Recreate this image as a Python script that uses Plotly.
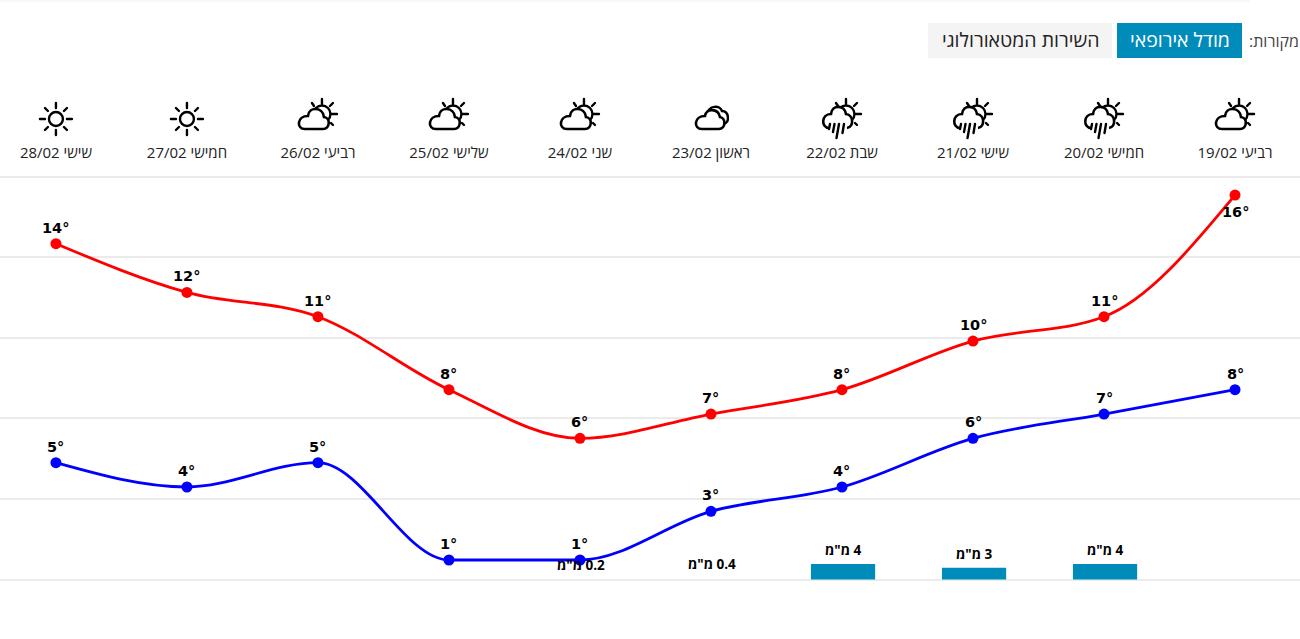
import base64
import plotly.graph_objects as go

days = ["רביעי 19/02", "חמישי 20/02", "שישי 21/02", "שבת 22/02", "ראשון 23/02",
        "שני 24/02", "שלישי 25/02", "רביעי 26/02", "חמישי 27/02", "שישי 28/02"]
temp_high = [16, 11, 10, 8, 7, 6, 8, 11, 12, 14]
temp_low = [8, 7, 6, 4, 3, 1, 1, 5, 4, 5]
rain_days = ["חמישי 20/02", "שישי 21/02", "שבת 22/02", "ראשון 23/02", "שני 24/02"]
rain_mm = [4, 3, 4, 0.4, 0.2]
icons = ["partly", "rain", "rain", "rain", "cloudy", "partly", "partly", "partly", "sun", "sun"]

RED = "#ff0000"
BLUE = "#0000ff"
TEAL = "#008cba"
GRID = "#ebebeb"
TEXT_FONT = "Open Sans"
NUM_FONT = "DejaVu Sans"
W, H = 1300, 639
PLOT_TOP, PLOT_BOTTOM = 170, 580

RAYS = ('<g stroke="black" stroke-width="2.4" stroke-linecap="round" fill="none">'
        '<path d="M27 6V11M36 21H42M35 13L38 10M36 30L38 32M17 10L19 13"/></g>'
        '<circle cx="27" cy="21" r="8.5" fill="white" stroke="black" stroke-width="2.4"/>')
SVG = {
    "partly": RAYS + '<path d="M10 36H28C35 36 36 25 29 24C28 14 14 13 13 23C2 23 1 36 10 36Z" '
                     'fill="white" stroke="black" stroke-width="2.6"/>',
    "rain": RAYS + '<path d="M10 35C2 35 2 21 12 21C13 11 26 12 27 21C35 22 35 34 28 35" '
                   'fill="white" stroke="black" stroke-width="2.6"/>'
                   '<path d="M11 31L10 36M15.5 31L14 39M20 31L17.5 45M25 31L23.5 40" '
                   'stroke="black" stroke-width="2.4" stroke-linecap="round" fill="none"/>',
    "cloudy": '<path d="M19 21C21 12 32 12 34 18C41 18 42 29 36 31" fill="white" stroke="black" stroke-width="2.4"/>'
              '<path d="M14 36H31C38 36 38 25 32 24C30 15 18 15 17 23C6 23 5 36 14 36Z" '
              'fill="white" stroke="black" stroke-width="2.6"/>',
    "sun": '<g stroke="black" stroke-width="2.4" stroke-linecap="round" fill="none">'
           '<path d="M23 10V15M23 37V42M7 26H12M34 26H39M12 15L15 18M34 15L31 18M12 37L15 34M34 37L31 34"/>'
           '<circle cx="23" cy="26" r="7"/></g>',
}


def icon_uri(name):
    svg = f'<svg xmlns="http://www.w3.org/2000/svg" width="46" height="50" viewBox="0 0 46 50">{SVG[name]}</svg>'
    return "data:image/svg+xml;base64," + base64.b64encode(svg.encode()).decode()


def paper_y(py):
    return (PLOT_BOTTOM - py) / (PLOT_BOTTOM - PLOT_TOP)


def sign(v):
    return (v > 0) - (v < 0)


def monotone_path(vals):
    # flat at turning points, like the original chart's curve
    n = len(vals)
    t = [0.0] * n
    for i in range(1, n - 1):
        s0, s1 = vals[i] - vals[i - 1], vals[i + 1] - vals[i]
        t[i] = (sign(s0) + sign(s1)) * min(abs(s0), abs(s1), 0.25 * abs(s0 + s1))
    t[0] = (3 * (vals[1] - vals[0]) - t[1]) / 2
    t[-1] = (3 * (vals[-1] - vals[-2]) - t[-2]) / 2
    path = f"M0,{vals[0]}"
    for i in range(n - 1):
        path += (f"C{i + 1 / 3},{vals[i] + t[i] / 3} "
                 f"{i + 2 / 3},{vals[i + 1] - t[i + 1] / 3} {i + 1},{vals[i + 1]}")
    return path


x_pos = list(range(len(days)))
rain_pos = [days.index(d) for d in rain_days]

fig = go.Figure()

fig.add_trace(go.Bar(
    x=rain_pos, y=rain_mm, yaxis="y", width=0.49, offset=-0.253,
    marker=dict(color=TEAL, opacity=[1 if v >= 1 else 0 for v in rain_mm], line_width=0),
    hoverinfo="skip",
))
for vals, color in [(temp_high, RED), (temp_low, BLUE)]:
    fig.add_trace(go.Scatter(
        x=x_pos, y=vals, yaxis="y2", mode="markers",
        marker=dict(color=color, size=11),
        cliponaxis=False,
    ))

# temperature labels sit over the point, apart from the peak that is under it
for vals in (temp_high, temp_low):
    for p, v in zip(x_pos, vals):
        fig.add_annotation(x=p, y=v, yref="y2", text=f"{v}°", showarrow=False,
                           yshift=-17 if v == max(temp_high) else 16,
                           font=dict(family=NUM_FONT, size=14.5, color="black", weight="bold"))

for p, v in zip(rain_pos, rain_mm):
    fig.add_annotation(x=p - 0.008, y=v, yref="y", text=f"\u200f{v} מ\"מ", showarrow=False, yshift=14,
                       font=dict(family=TEXT_FONT, size=13.5, color="black", weight="bold"))

images = []
for p, name in zip(x_pos, icons):
    images.append(dict(source=icon_uri(name), xref="x", yref="paper", x=p, y=paper_y(93),
                       sizex=46 / 131, sizey=50 / (PLOT_BOTTOM - PLOT_TOP), xanchor="center", yanchor="top",
                       sizing="stretch", layer="above"))

shapes = [
    dict(type="rect", xref="paper", yref="paper", x0=928 / W, x1=1112 / W, y0=paper_y(23), y1=paper_y(58),
         fillcolor="#f4f4f4", line_width=0),
    dict(type="rect", xref="paper", yref="paper", x0=1117 / W, x1=1242 / W, y0=paper_y(23), y1=paper_y(58),
         fillcolor=TEAL, line_width=0),
    dict(type="rect", xref="paper", yref="paper", x0=0, x1=1250 / W, y0=paper_y(0), y1=paper_y(2),
         fillcolor="#f8f8f8", line_width=0),
]
for vals, color in [(temp_high, RED), (temp_low, BLUE)]:
    shapes.append(dict(type="path", xref="x", yref="y2", path=monotone_path(vals), layer="above",
                       line=dict(color=color, width=2.8)))

for x_px, y_px, label, size, color, anchor in [
    (1179.5, 40, "מודל אירופאי", 19.5, "white", "center"),
    (1020, 40, "השירות המטאורולוגי", 19.5, "#222222", "center"),
    (1247, 41, "מקורות:\u200f", 16, "#444444", "left"),
]:
    fig.add_annotation(xref="paper", yref="paper", x=x_px / W, y=paper_y(y_px), text=label,
                       showarrow=False, xanchor=anchor, yanchor="middle",
                       font=dict(family=TEXT_FONT, size=size, color=color))

fig.update_layout(
    width=W, height=H, showlegend=False, plot_bgcolor="white", paper_bgcolor="white",
    margin=dict(l=0, r=0, t=PLOT_TOP, b=H - PLOT_BOTTOM, autoexpand=False),
    shapes=shapes, images=images,
    xaxis=dict(range=[9.427, -0.496], side="top", showgrid=False, zeroline=False, showline=False,
               tickvals=x_pos, ticktext=days,
               ticks="outside", ticklen=5, tickcolor="rgba(0,0,0,0)", tickangle=0,
               tickfont=dict(family=TEXT_FONT, size=15, color="#222222")),
    yaxis=dict(range=[-0.128, 104.97], tick0=0, dtick=20.64, showticklabels=False, ticks="",
               showgrid=True, gridcolor=GRID, gridwidth=2,
               zeroline=True, zerolinecolor=GRID, zerolinewidth=2),
    yaxis2=dict(range=[0.178, 17.03], overlaying="y", visible=False, showgrid=False),
)

fig.write_html("out.html", config={"displayModeBar": False},
               post_script="document.body.style.margin='0';document.body.style.overflow='hidden';")
